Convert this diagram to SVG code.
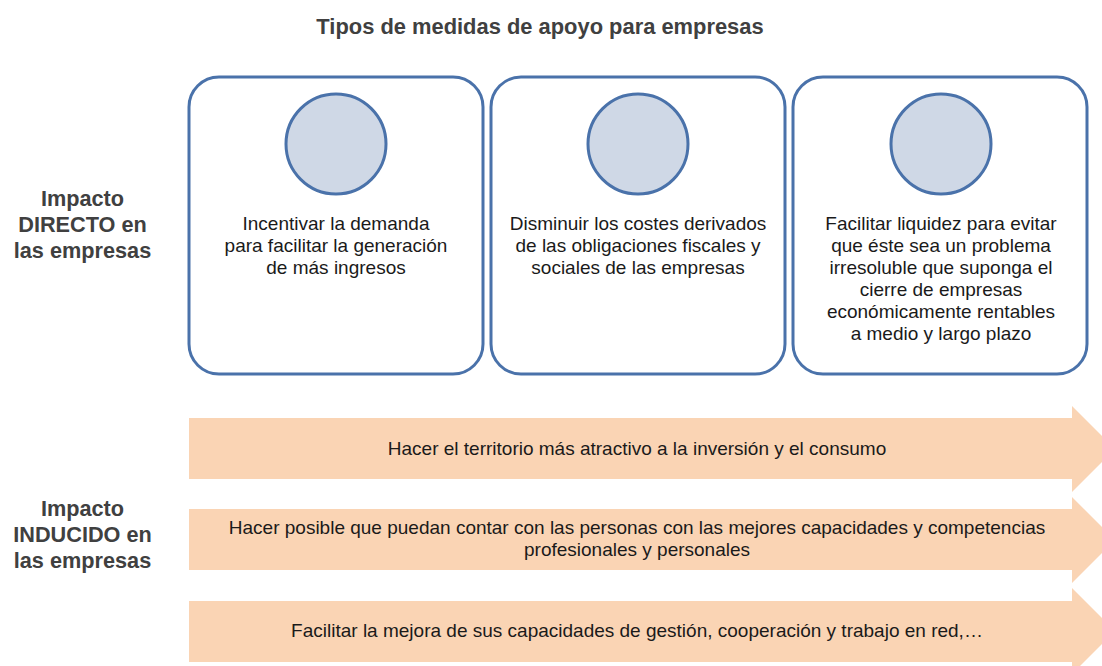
<svg xmlns="http://www.w3.org/2000/svg" width="1102" height="666" viewBox="0 0 1102 666">
<style>
.box{fill:#ffffff;stroke:#4a72aa;stroke-width:3}
.dot{fill:#cfd8e6;stroke:#4a72aa;stroke-width:3}
.arr{fill:#fad4b4}
.t{font-family:"Liberation Sans",Arial,sans-serif;font-size:19px;fill:#1a1a1a;text-anchor:middle}
.h{font-family:"Liberation Sans",Arial,sans-serif;font-size:21.7px;font-weight:bold;fill:#404040;text-anchor:middle}
</style>
<rect width="1102" height="666" fill="#ffffff"/>
<text class="h" x="540" y="34" style="font-size:21.9px">Tipos de medidas de apoyo para empresas</text>
<g id="label-directo">
<text class="h" x="82.5" y="206">Impacto</text>
<text class="h" x="82.5" y="232">DIRECTO en</text>
<text class="h" x="82.5" y="258">las empresas</text>
</g>
<g id="label-inducido">
<text class="h" x="82.5" y="516">Impacto</text>
<text class="h" x="82.5" y="542">INDUCIDO en</text>
<text class="h" x="82.5" y="568">las empresas</text>
</g>
<g id="box1">
<rect class="box" x="189" y="77" width="294" height="297" rx="30"/>
<circle class="dot" cx="336" cy="144" r="50"/>
<text class="t" x="336" y="230">Incentivar la demanda</text>
<text class="t" x="336" y="252">para facilitar la generación</text>
<text class="t" x="336" y="274">de más ingresos</text>
</g>
<g id="box2">
<rect class="box" x="491" y="77" width="294" height="297" rx="30"/>
<circle class="dot" cx="638" cy="144" r="50"/>
<text class="t" x="638" y="230">Disminuir los costes derivados</text>
<text class="t" x="638" y="252">de las obligaciones fiscales y</text>
<text class="t" x="638" y="274">sociales de las empresas</text>
</g>
<g id="box3">
<rect class="box" x="793" y="77" width="294" height="297" rx="30"/>
<circle class="dot" cx="941" cy="144" r="50"/>
<text class="t" x="941" y="230">Facilitar liquidez para evitar</text>
<text class="t" x="941" y="252">que éste sea un problema</text>
<text class="t" x="941" y="274">irresoluble que suponga el</text>
<text class="t" x="941" y="296">cierre de empresas</text>
<text class="t" x="941" y="318">económicamente rentables</text>
<text class="t" x="941" y="340">a medio y largo plazo</text>
</g>
<g id="arrow1">
<polygon class="arr" points="189,418 1072,418 1072,406 1115,449 1072,492 1072,479 189,479"/>
<text class="t" x="637" y="455">Hacer el territorio más atractivo a la inversión y el consumo</text>
</g>
<g id="arrow2">
<polygon class="arr" points="189,509 1072,509 1072,497 1115,540 1072,583 1072,570 189,570"/>
<text class="t" x="637" y="534">Hacer posible que puedan contar con las personas con las mejores capacidades y competencias</text>
<text class="t" x="637" y="556">profesionales y personales</text>
</g>
<g id="arrow3">
<polygon class="arr" points="189,601 1072,601 1072,588 1115,631 1072,674 1072,662 189,662"/>
<text class="t" x="637" y="637">Facilitar la mejora de sus capacidades de gestión, cooperación y trabajo en red,…</text>
</g>
<g id="connectors"></g>
</svg>
